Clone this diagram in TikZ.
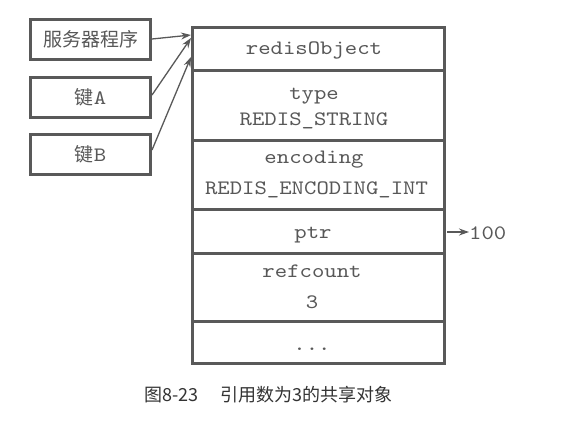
\documentclass[tikz,border=0pt]{standalone}
\usepackage{fontspec}
\setmonofont[FakeStretch=1.15]{lmmono10-regular.otf}
\newfontfamily\cjk{Noto Sans CJK SC}
\usetikzlibrary{arrows.meta}
\definecolor{edge}{HTML}{595959}
\definecolor{txt}{HTML}{585858}
\definecolor{cap}{HTML}{333333}
\begin{document}
\begin{tikzpicture}[x=1pt,y=-1pt,
  lbox/.style={draw=edge,line width=3pt,minimum width=120pt,minimum height=40pt,inner sep=0pt,font=\cjk\fontsize{19}{22}\selectfont,text=txt},
  cell/.style={draw=edge,line width=3pt,minimum width=252pt,inner sep=0pt},
  mono/.style={font=\ttfamily\fontsize{20.5}{25}\selectfont,text=txt,anchor=base,inner sep=0pt},
  ptrarrow/.style={draw=edge,line width=1.3pt,-{Stealth[length=10pt,width=7pt]}}
]
\useasboundingbox (0,0) rectangle (585,420);
\fill[white] (0,0) rectangle (585,420);
% left boxes
\node[lbox] (srv) at (90.5,39.5) {服务器程序};
\node[lbox] (keyA) at (90.5,97.5) {键{\ttfamily\fontsize{20.5}{25}\selectfont A}};
\node[lbox] (keyB) at (90.5,154.5) {键{\ttfamily\fontsize{20.5}{25}\selectfont B}};
% main object cells
\node[cell,minimum height=42.5pt] (obj) at (318.5,48.75) {};
\node[cell,minimum height=70pt] (type) at (318.5,105) {};
\node[cell,minimum height=69pt] (enc) at (318.5,174.5) {};
\node[cell,minimum height=44pt] (ptr) at (318.5,231) {};
\node[cell,minimum height=68pt] (ref) at (318.5,287) {};
\node[cell,minimum height=42.5pt] (more) at (318.5,342.25) {};
% cell texts
\node[mono] (tobj) at (314,55) {redisObject};
\node[mono] (ttype) at (314,99) {type};
\node[mono] (ttypev) at (314,125) {REDIS\_STRING};
\node[mono] (tenc) at (314,163) {encoding};
\node[mono] (tencv) at (316.5,194) {REDIS\_ENCODING\_INT};
\node[mono] (tptr) at (313,238) {ptr};
\node[mono] (tref) at (312,277) {refcount};
\node[mono] (trefv) at (312,308) {3};
\node[mono] (tmore) at (312,350) {...};
% value
\node[mono,anchor=base west] (val) at (469,239) {100};
\coordinate (t1) at (191,35);
\coordinate (t2) at (191,38);
\coordinate (t3) at (191,57);
\coordinate (s1) at (152,39);
\coordinate (s2) at (152,95);
\coordinate (s3) at (152,150);
\coordinate (pe) at (447,232);
\draw[ptrarrow] (s1) -- (t1);
\draw[ptrarrow] (s2) -- (t2);
\draw[ptrarrow] (s3) -- (t3);
\draw[ptrarrow] (pe) -- (val.west |- pe);
% caption
\node[anchor=west,inner sep=0pt,text=cap,font=\cjk\fontsize{18}{20}\selectfont] (caption) at (144,395) {图8-23\hspace{1.2em}引用数为3的共享对象};
\end{tikzpicture}
\end{document}
